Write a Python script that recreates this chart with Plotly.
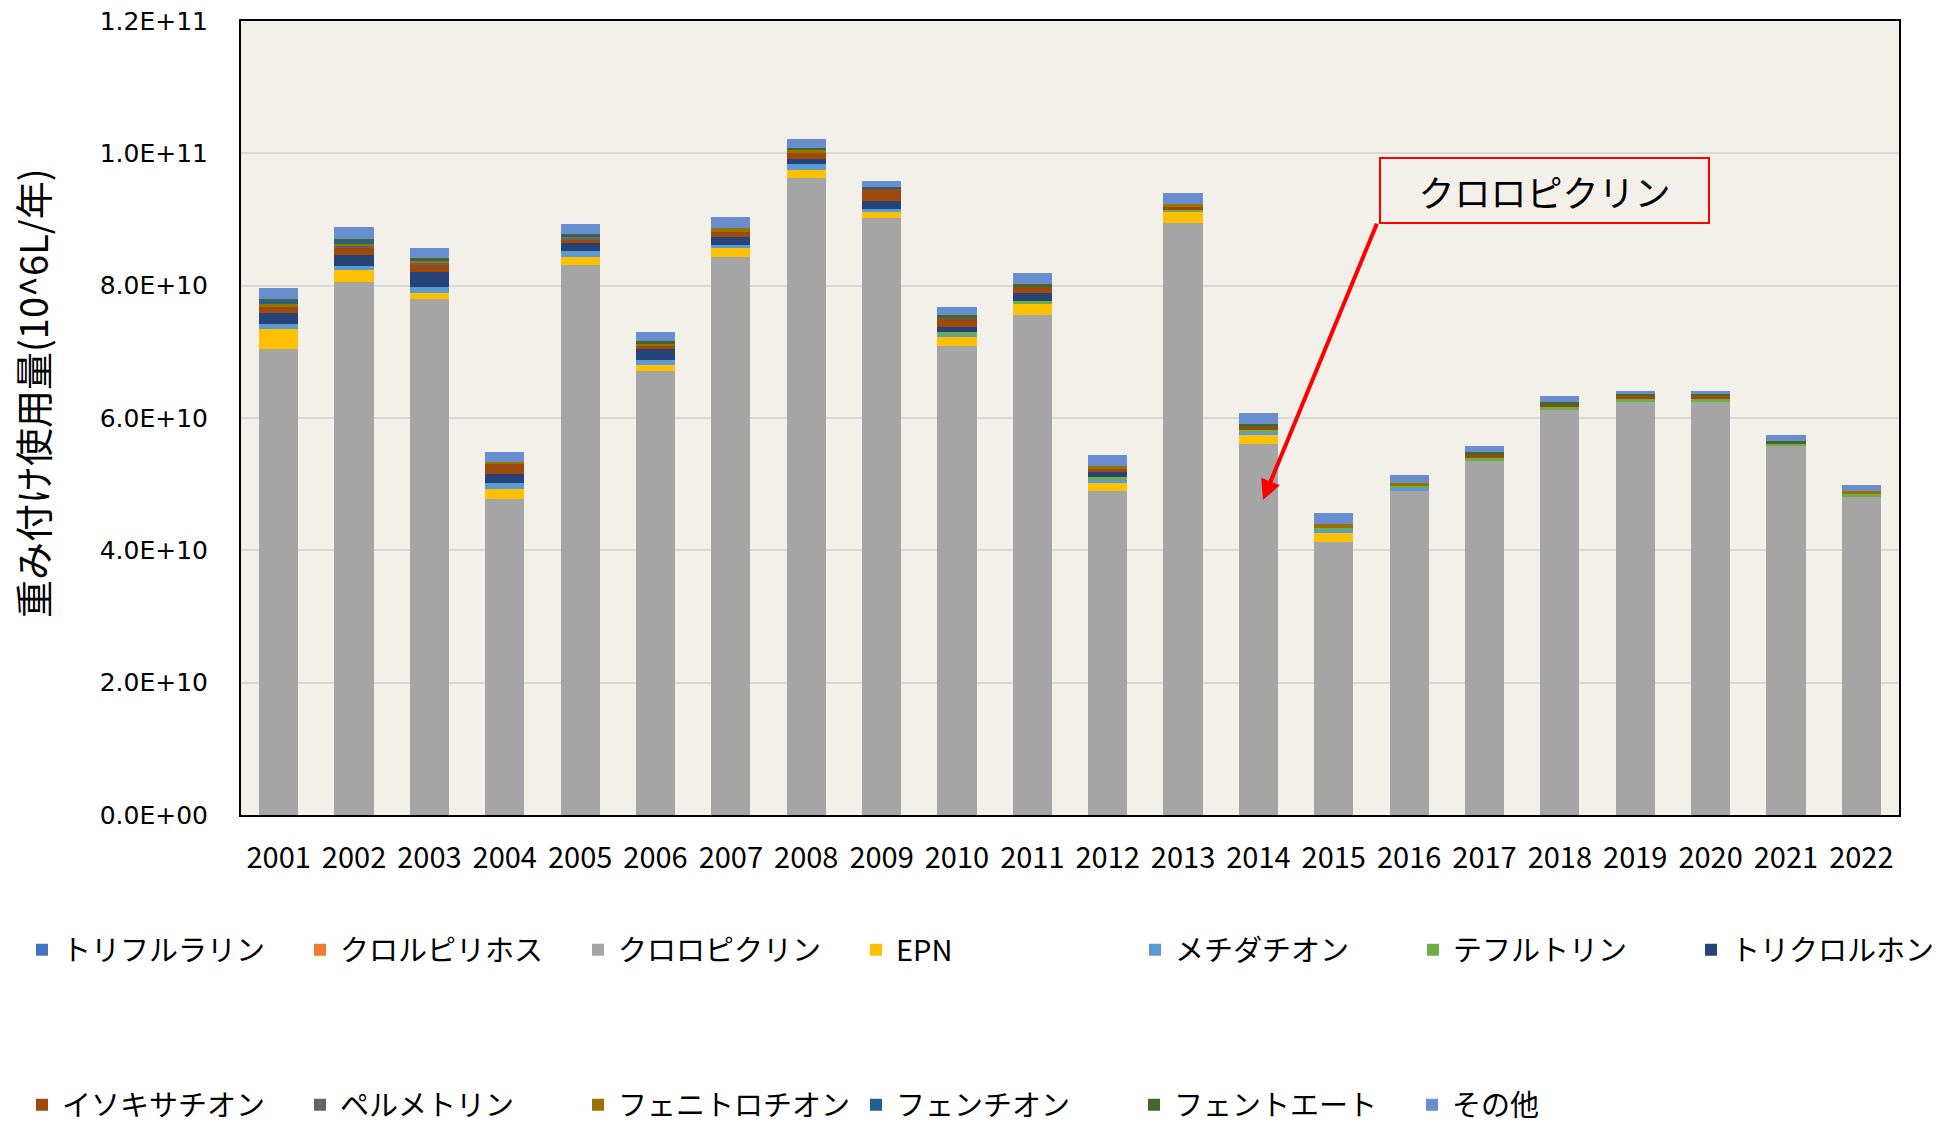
import plotly.graph_objects as go

UNIT = 1e9  # values below are in units of 1E9 (10^6L)

years = ["2001", "2002", "2003", "2004", "2005", "2006", "2007", "2008", "2009", "2010", "2011",
         "2012", "2013", "2014", "2015", "2016", "2017", "2018", "2019", "2020", "2021", "2022"]

trifluralin   = [0, 0, 0, 0, 0, 0, 0, 0, 0, 0, 0, 0, 0, 0, 0, 0, 0, 0, 0, 0, 0, 0]
chlorpyrifos  = [0, 0, 0, 0, 0, 0, 0, 0, 0, 0, 0, 0, 0, 0, 0, 0, 0, 0, 0, 0, 0, 0]
chloropicrin  = [70.4, 80.6, 78.0, 47.8, 83.1, 67.05, 84.4, 96.2, 90.3, 70.9, 75.5, 48.9, 89.4, 56.1, 41.3, 49.0, 53.55, 61.2, 62.45, 62.45, 55.7, 48.1]
epn           = [3.0, 1.8, 0.86, 1.5, 1.26, 0.9, 1.31, 1.31, 0.86, 1.31, 1.76, 1.31, 1.71, 1.31, 1.36, 0, 0, 0, 0, 0, 0, 0]
methidathion  = [0.86, 0.6, 0.9, 0.9, 0.86, 0.8, 0.45, 0.86, 0.45, 0.4, 0, 0.4, 0, 0.5, 0.4, 0.35, 0, 0, 0, 0, 0, 0]
tefluthrin    = [0, 0, 0, 0, 0, 0, 0, 0, 0, 0.4, 0.4, 0.4, 0.4, 0.35, 0.35, 0.35, 0.45, 0.4, 0.4, 0.4, 0.4, 0.4]
trichlorfon   = [1.66, 1.6, 2.3, 1.3, 1.26, 1.71, 1.16, 0.8, 1.26, 0.76, 1.26, 0.86, 0, 0, 0, 0, 0, 0, 0, 0, 0, 0]
isoxathion    = [0.86, 1.1, 1.2, 1.6, 0.4, 0.5, 0.86, 0.86, 1.71, 1.21, 0.86, 0.4, 0.4, 0.35, 0, 0, 0.4, 0.4, 0.45, 0.45, 0, 0]
permethrin    = [0, 0.3, 0.2, 0, 0.35, 0, 0, 0, 0, 0.1, 0, 0, 0, 0, 0, 0, 0, 0, 0, 0, 0, 0]
fenitrothion  = [0.5, 0.4, 0.3, 0.3, 0.25, 0.3, 0.5, 0.4, 0, 0, 0, 0.45, 0.5, 0, 0.5, 0.5, 0, 0, 0, 0, 0, 0.45]
fenthion      = [0.4, 0.3, 0.2, 0, 0.25, 0, 0, 0, 0.4, 0, 0, 0, 0, 0, 0, 0, 0, 0, 0, 0, 0, 0]
phenthoate    = [0.35, 0.4, 0.2, 0, 0.15, 0.4, 0, 0.4, 0, 0.45, 0.4, 0, 0, 0.45, 0, 0, 0.45, 0.4, 0.35, 0.35, 0.45, 0]
others        = [1.66, 1.7, 1.5, 1.4, 1.5, 1.31, 1.66, 1.31, 0.8, 1.21, 1.71, 1.71, 1.66, 1.66, 1.66, 1.26, 0.86, 0.9, 0.5, 0.5, 0.9, 0.86]

series_names = ["トリフルラリン", "クロルピリホス", "クロロピクリン", "EPN", "メチダチオン", "テフルトリン", "トリクロルホン",
                "イソキサチオン", "ペルメトリン", "フェニトロチオン", "フェンチオン", "フェントエート", "その他"]
series_values = [trifluralin, chlorpyrifos, chloropicrin, epn, methidathion, tefluthrin, trichlorfon,
                 isoxathion, permethrin, fenitrothion, fenthion, phenthoate, others]
series_colors = ["#4472C4", "#ED7D31", "#A5A5A5", "#FFC000", "#5B9BD5", "#70AD47", "#264478",
                 "#9E480E", "#636363", "#997300", "#255E91", "#43682B", "#698ED0"]
legend_groups = ["legend", "legend", "legend", "legend", "legend2", "legend2", "legend2",
                 "legend3", "legend3", "legend3", "legend3", "legend3", "legend3"]

y_tickvals = [0, 2e10, 4e10, 6e10, 8e10, 1e11, 1.2e11]
y_ticktext = ["0.0E+00", "2.0E+10", "4.0E+10", "6.0E+10", "8.0E+10", "1.0E+11", "1.2E+11"]

fig = go.Figure()
for name, vals, color, lg in zip(series_names, series_values, series_colors, legend_groups):
    fig.add_trace(go.Bar(
        x=years, y=[v * UNIT for v in vals], name=name,
        marker=dict(color=color, line=dict(width=0)),
        legend=lg,
    ))

W, H = 1955, 1123
L, R, T, B = 241, 56, 21, 308
pw, ph = W - L - R, H - T - B

def px_x(px):
    return (px - L) / pw

def px_y(py):
    return (H - B - py) / ph

legend_common = dict(
    orientation="h", xanchor="left", yanchor="middle", traceorder="normal",
    entrywidthmode="pixels", entrywidth=233,
    font=dict(family="Noto Sans CJK JP", size=29, color="#000000"),
    bgcolor="rgba(0,0,0,0)", itemclick=False,
)

LEG_X0 = 22
fig.update_layout(
    width=W, height=H,
    margin=dict(l=L, r=R, t=T, b=B, autoexpand=False),
    barmode="stack", bargap=0.48,
    paper_bgcolor="#FFFFFF", plot_bgcolor="#F3F0E9",
    font=dict(family="Noto Sans CJK JP", color="#000000"),
    legend=dict(x=px_x(LEG_X0), y=px_y(950), **legend_common),
    legend2=dict(x=px_x(LEG_X0 + 4 * 278 + 1), y=px_y(950), **legend_common),
    legend3=dict(x=px_x(LEG_X0), y=px_y(1105), **legend_common),
    xaxis=dict(
        type="category", showgrid=False, showline=True, mirror=True,
        linecolor="#000000", linewidth=2, ticks="",
        ticklabelstandoff=16, automargin=False,
        tickfont=dict(family="Noto Sans CJK JP", size=29, color="#000000"),
    ),
    yaxis=dict(
        range=[0, 1.2e11], tickvals=y_tickvals, ticktext=y_ticktext,
        showgrid=True, gridcolor="#D9D9D9", gridwidth=2,
        showline=True, mirror=True, linecolor="#000000", linewidth=2,
        zeroline=False, ticks="", ticklabelstandoff=26, automargin=False,
        tickfont=dict(family="DejaVu Sans", size=25, color="#000000"),
    ),
    showlegend=True,
)

# y-axis title
fig.add_annotation(
    xref="paper", yref="paper", x=px_x(31), y=px_y(393),
    text="重み付け使用量(10^6L/年)", textangle=-90, showarrow=False,
    font=dict(family="Noto Sans CJK JP", size=38, color="#000000"),
    xanchor="center", yanchor="middle",
)

# callout arrow
fig.add_annotation(
    xref="x", yref="y", x=13.06, y=4.76e10,
    axref="x", ayref="y", ax=14.58, ay=8.96e10,
    text="", showarrow=True, arrowhead=2, arrowsize=1, arrowwidth=4, arrowcolor="#FF0000",
)

# callout box
fig.add_annotation(
    xref="x", yref="y", x=16.79, y=9.445e10,
    text="クロロピクリン", showarrow=False,
    font=dict(family="Noto Sans CJK JP", size=36, color="#000000"),
    bordercolor="#FF0000", borderwidth=2, borderpad=0,
    width=327, height=63, align="center", valign="middle",
    xanchor="center", yanchor="middle",
)

fig.write_html(
    "out.html",
    config={"displayModeBar": False},
    post_script="document.body.style.margin='0px';document.body.style.overflow='hidden';",
)
